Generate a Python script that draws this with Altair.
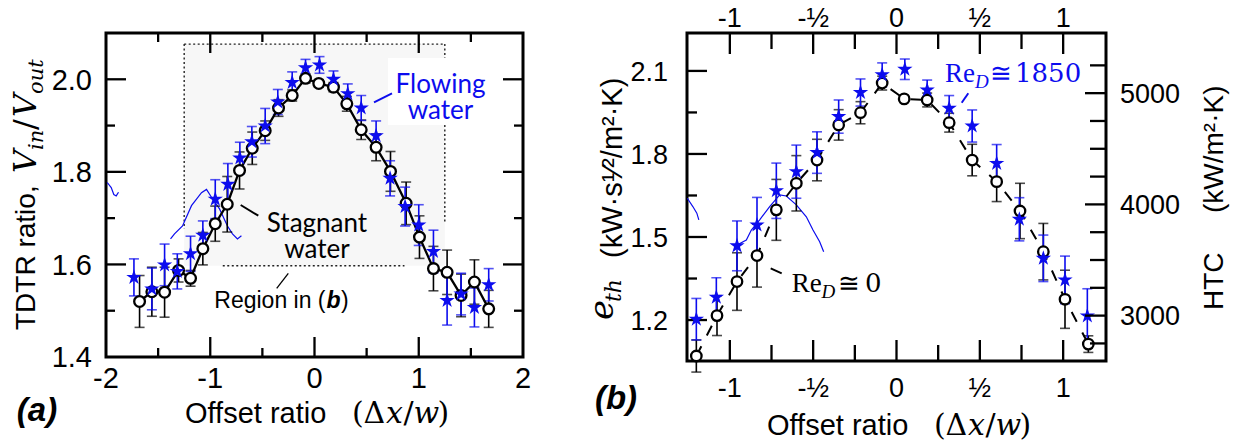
import altair as alt
import pandas as pd

# ---------------- panel (a): TDTR ratio vs offset ratio ----------------
a_x_stagnant = [-1.678, -1.56, -1.438, -1.304, -1.189, -1.071, -0.952, -0.837, -0.719, -0.597,
                -0.473, -0.345, -0.214, -0.086, 0.041, 0.182, 0.31, 0.448, 0.591, 0.729,
                0.879, 1.007, 1.141, 1.272, 1.406, 1.534, 1.671]
a_y_stagnant = [1.520, 1.541, 1.540, 1.587, 1.570, 1.634, 1.688, 1.730, 1.803, 1.851,
                1.889, 1.938, 1.965, 2.002, 1.991, 1.983, 1.947, 1.891, 1.853, 1.801,
                1.732, 1.659, 1.591, 1.583, 1.533, 1.562, 1.504]
a_e_stagnant = [0.056, 0.053, 0.054, 0.025, 0.017, 0.035, 0.038, 0.06, 0.04, 0.035,
                0.021, 0.018, 0.012, 0.01, 0.008, 0.01, 0.016, 0.021, 0.029, 0.043,
                0.046, 0.046, 0.048, 0.048, 0.046, 0.048, 0.04]

a_x_flowing = [-1.732, -1.56, -1.438, -1.316, -1.189, -1.071, -0.952, -0.831, -0.716, -0.601,
               -0.473, -0.352, -0.214, -0.086, 0.048, 0.182, 0.319, 0.448, 0.591, 0.725,
               0.869, 1.0, 1.141, 1.272, 1.406, 1.534, 1.671]
a_y_flowing = [1.572, 1.547, 1.599, 1.585, 1.623, 1.663, 1.741, 1.773, 1.830, 1.865,
               1.899, 1.951, 1.993, 2.025, 2.031, 2.000, 1.969, 1.938, 1.878, 1.786,
               1.725, 1.685, 1.628, 1.522, 1.536, 1.507, 1.556]
a_e_flowing = [0.04, 0.045, 0.045, 0.038, 0.038, 0.031, 0.042, 0.045, 0.034, 0.033,
               0.038, 0.027, 0.023, 0.018, 0.018, 0.018, 0.021, 0.027, 0.032, 0.038,
               0.042, 0.044, 0.046, 0.053, 0.045, 0.042, 0.035]

# stray thin blue traces
a_trace_x = [-1.988, -1.950, -1.925, -1.902, -1.880,
             -1.381, -1.343, -1.266, -1.180, -1.084, -1.036, -0.979, -0.911, -0.835, -0.787, -0.739, -0.701]
a_trace_y = [1.777, 1.766, 1.751, 1.748, 1.756,
             1.655, 1.666, 1.683, 1.727, 1.755, 1.762, 1.742, 1.720, 1.683, 1.666, 1.655, 1.662]
a_trace_id = [0] * 5 + [1] * 12

# ---------------- panel (b): effusivity / HTC vs offset ratio ----------------
b_x_stagnant = [-1.201, -1.077, -0.957, -0.837, -0.721, -0.601, -0.477, -0.347, -0.216, -0.086,
                0.046, 0.184, 0.316, 0.454, 0.601, 0.741, 0.881, 1.011, 1.151]
b_y_stagnant = [1.070, 1.216, 1.339, 1.433, 1.598, 1.694, 1.778, 1.905, 1.949, 2.056,
                1.999, 1.995, 1.913, 1.778, 1.700, 1.594, 1.447, 1.275, 1.113]
b_e_stagnant = [0.058, 0.072, 0.104, 0.114, 0.11, 0.1, 0.075, 0.055, 0.04, 0.025,
                0.008, 0.025, 0.034, 0.057, 0.072, 0.1, 0.102, 0.105, 0.03]

b_x_flowing = [-1.201, -1.081, -0.957, -0.837, -0.721, -0.601, -0.477, -0.347, -0.216, -0.086,
               0.05, 0.184, 0.316, 0.454, 0.601, 0.737, 0.881, 1.011, 1.145]
b_y_flowing = [1.203, 1.282, 1.468, 1.543, 1.667, 1.736, 1.805, 1.935, 2.022, 2.086,
               2.106, 2.031, 1.965, 1.901, 1.766, 1.564, 1.423, 1.345, 1.215]
b_e_flowing = [0.075, 0.071, 0.09, 0.1, 0.1, 0.096, 0.075, 0.06, 0.049, 0.043,
               0.037, 0.036, 0.046, 0.058, 0.068, 0.078, 0.084, 0.086, 0.098]

b_trace_x = [-1.255, -1.222, -1.198, -1.186,
             -0.957, -0.901, -0.871, -0.821, -0.761, -0.701, -0.661, -0.601, -0.541, -0.501, -0.461, -0.437]
b_trace_y = [1.640, 1.610, 1.586, 1.562,
             1.471, 1.489, 1.525, 1.562, 1.610, 1.652, 1.648, 1.616, 1.573, 1.525, 1.483, 1.447]
b_trace_id = [0] * 4 + [1] * 12

# ---------------- tick values and labels ----------------
a_x_labels = [-2, -1, 0, 1, 2]
a_x_text = ["-2", "-1", "0", "1", "2"]
a_x_major = [-1, 0, 1]
a_x_minor = [-1.5, -0.5, 0.5, 1.5]
a_y_labels = [1.4, 1.6, 1.8, 2.0]
a_y_text = ["1.4", "1.6", "1.8", "2.0"]
a_y_major = [1.6, 1.8, 2.0]
a_y_minor = [1.5, 1.7, 1.9]

b_x_major = [-1, -0.5, 0, 0.5, 1]
b_x_text = ["-1", "-½", "0", "½", "1"]
b_x_minor = [-0.75, -0.25, 0.25, 0.75]
b_y_major = [1.2, 1.5, 1.8, 2.1]
b_y_text = ["1.2", "1.5", "1.8", "2.1"]
b_y_minor = [1.35, 1.65, 1.95]
htc_major = [3000, 4000, 5000]
htc_text = ["3000", "4000", "5000"]
htc_minor = [2750, 3250, 3500, 3750, 4250, 4500, 4750, 5250]

# ---------------- layout / style ----------------
BLUE = "#0c0cee"
SANS = "Liberation Sans"
SERIF = "Liberation Serif"
MATH = "DejaVu Serif"
LABEL = "Lato"
# five-pointed star in the [-1, 1] symbol box
STAR = ("M0,-1L0.2245,-0.309L0.951,-0.309L0.363,0.118L0.5878,0.809L0,0.382"
        "L-0.5878,0.809L-0.363,0.118L-0.951,-0.309L-0.2245,-0.309Z")

PAGE_W, PAGE_H = 1237, 444
A_W, A_H = 417, 324
B_W, B_H = 419, 328
A_ORIGIN = (106, 33)
B_ORIGIN = (687, 33)
SPACING = B_ORIGIN[0] - A_ORIGIN[0] - A_W

ax_scale = alt.Scale(domain=[-2, 2], nice=False, zero=False)
ay_scale = alt.Scale(domain=[1.4, 2.1], nice=False, zero=False)
bx_scale = alt.Scale(domain=[-1.257, 1.257], nice=False, zero=False)
by_scale = alt.Scale(domain=[1.052, 2.237], nice=False, zero=False)
htc_scale = alt.Scale(domain=[2592, 5541], nice=False, zero=False)

ONE = pd.DataFrame({"k": [0]})


def text_at(origin, x, y, text, size, font=SANS, color="black", style="normal",
            weight="normal", angle=0, align="left", baseline="alphabetic", line_height=None):
    kw = dict(text=text, font=font, fontSize=size, fontStyle=style, fontWeight=weight,
              color=color, align=align, baseline=baseline)
    if angle:
        kw["angle"] = angle
    if line_height:
        kw["lineHeight"] = line_height
    return alt.Chart(ONE).mark_text(**kw).encode(
        x=alt.value(x - origin[0]), y=alt.value(y - origin[1]))


def leader(origin, x1, y1, x2, y2, color="black", width=2.0):
    return alt.Chart(ONE).mark_rule(color=color, strokeWidth=width).encode(
        x=alt.value(x1 - origin[0]), y=alt.value(y1 - origin[1]),
        x2=alt.value(x2 - origin[0]), y2=alt.value(y2 - origin[1]))


def x_labels(vals, texts, scale, origin, baseline_y, size):
    df = pd.DataFrame({"v": vals, "t": texts})
    return alt.Chart(df).mark_text(font=SANS, fontSize=size, color="black",
                                   align="center", baseline="alphabetic").encode(
        x=alt.X("v:Q", scale=scale, axis=None), y=alt.value(baseline_y - origin[1]),
        text="t:N")


def y_labels(vals, texts, scale, origin, x_page, size, align):
    df = pd.DataFrame({"v": vals, "t": texts})
    return alt.Chart(df).mark_text(font=SANS, fontSize=size, color="black", align=align,
                                   baseline="alphabetic", dy=round(0.36 * size, 1)).encode(
        y=alt.Y("v:Q", scale=scale, axis=None), x=alt.value(x_page - origin[0]),
        text="t:N")


def x_ticks(vals, scale, length, H, width=2.3):
    df = pd.DataFrame({"v": vals})
    enc_x = alt.X("v:Q", scale=scale, axis=None)
    top = alt.Chart(df).mark_rule(color="black", strokeWidth=width).encode(
        x=enc_x, y=alt.value(0), y2=alt.value(length))
    bot = alt.Chart(df).mark_rule(color="black", strokeWidth=width).encode(
        x=enc_x, y=alt.value(H - length), y2=alt.value(H))
    return [top, bot]


def y_ticks(vals, scale, length, W, sides=("left", "right"), width=2.3):
    df = pd.DataFrame({"v": vals})
    out = []
    for side in sides:
        x0, x1 = (0, length) if side == "left" else (W - length, W)
        out.append(alt.Chart(df).mark_rule(color="black", strokeWidth=width).encode(
            y=alt.Y("v:Q", scale=scale, axis=None), x=alt.value(x0), x2=alt.value(x1)))
    return out


def error_bars(xs, ys, es, color, xscale, yscale, cap=10, width=1.6):
    df = pd.DataFrame({"x": xs, "y": ys, "e": es})
    base = alt.Chart(df).transform_calculate(lo="datum.y - datum.e", hi="datum.y + datum.e")
    ex = alt.X("x:Q", scale=xscale, axis=None)
    stem = base.mark_rule(color=color, strokeWidth=width).encode(
        x=ex, y=alt.Y("lo:Q", scale=yscale, axis=None), y2="hi:Q")
    caps = [base.mark_tick(orient="horizontal", color=color, size=cap, thickness=width).encode(
        x=ex, y=alt.Y(f"{c}:Q", scale=yscale, axis=None)) for c in ("lo", "hi")]
    return [stem] + caps


def offset_title(origin, x0, base):
    # "Offset ratio  (Δx/w)"
    return [
        text_at(origin, x0, base, "Offset ratio", 29),
        text_at(origin, x0 + 167, base, "(", 30, font=MATH),
        text_at(origin, x0 + 178.5, base, "Δ", 30, font=MATH),
        text_at(origin, x0 + 201, base, "x", 30, font=MATH, style="italic"),
        text_at(origin, x0 + 218.5, base, "/", 30, font=MATH),
        text_at(origin, x0 + 228.5, base, "w", 30, font=MATH, style="italic"),
        text_at(origin, x0 + 252.5, base, ")", 30, font=MATH),
    ]


# ================= panel (a) =================
o = A_ORIGIN
region = pd.DataFrame({"x0": [-1.25], "x1": [1.25], "y0": [1.597], "y1": [2.076]})
region_edges = pd.DataFrame({
    "x0": [-1.25, -1.25, 1.25, 1.25, -0.880],
    "x1": [1.25, -1.25, 1.25, 1.25, 0.863],
    "y0": [2.076, 2.076, 2.076, 1.901, 1.597],
    "y1": [2.076, 1.677, 2.046, 1.690, 1.597],
})

a_layers = []
a_layers.append(alt.Chart(region).mark_rect(fill="#f7f7f7").encode(
    x=alt.X("x0:Q", scale=ax_scale, axis=None), x2="x1:Q",
    y=alt.Y("y0:Q", scale=ay_scale, axis=None), y2="y1:Q"))
a_layers.append(alt.Chart(ONE).mark_rect(fill="white").encode(
    x=alt.value(388 - o[0]), x2=alt.value(492 - o[0]),
    y=alt.value(58 - o[1]), y2=alt.value(125 - o[1])))
a_layers.append(alt.Chart(region_edges).mark_rule(
    color="#222222", strokeWidth=1.4, strokeDash=[2, 2.5]).encode(
    x=alt.X("x0:Q", scale=ax_scale, axis=None), x2="x1:Q",
    y=alt.Y("y0:Q", scale=ay_scale, axis=None), y2="y1:Q"))

a_trace = pd.DataFrame({"x": a_trace_x, "y": a_trace_y, "seg": a_trace_id,
                        "i": range(len(a_trace_x))})
a_layers.append(alt.Chart(a_trace).mark_line(color=BLUE, strokeWidth=1.2).encode(
    x=alt.X("x:Q", scale=ax_scale, axis=None), y=alt.Y("y:Q", scale=ay_scale, axis=None),
    detail="seg:N", order="i:Q"))

a_layers += x_ticks(a_x_major, ax_scale, 20, A_H)
a_layers += x_ticks(a_x_minor, ax_scale, 9, A_H)
a_layers += y_ticks(a_y_major, ay_scale, 20, A_W)
a_layers += y_ticks(a_y_minor, ay_scale, 9, A_W)
a_layers.append(x_labels(a_x_labels, a_x_text, ax_scale, o, 388, 29))
a_layers.append(y_labels(a_y_labels, a_y_text, ay_scale, o, 92, 29, "right"))

a_layers += error_bars(a_x_stagnant, a_y_stagnant, a_e_stagnant, "black", ax_scale, ay_scale)
a_layers += error_bars(a_x_flowing, a_y_flowing, a_e_flowing, BLUE, ax_scale, ay_scale)

a_stag = pd.DataFrame({"x": a_x_stagnant, "y": a_y_stagnant})
a_flow = pd.DataFrame({"x": a_x_flowing, "y": a_y_flowing})
a_layers.append(alt.Chart(a_stag).mark_line(color="black", strokeWidth=2.3).encode(
    x=alt.X("x:Q", scale=ax_scale, axis=None), y=alt.Y("y:Q", scale=ay_scale, axis=None)))
a_layers.append(alt.Chart(a_stag).mark_point(
    shape="circle", filled=True, fill="white", stroke="black", strokeWidth=2.3,
    size=115, opacity=1).encode(
    x=alt.X("x:Q", scale=ax_scale, axis=None), y=alt.Y("y:Q", scale=ay_scale, axis=None)))
a_layers.append(alt.Chart(a_flow).mark_point(
    shape=STAR, filled=True, color=BLUE, size=260, opacity=1).encode(
    x=alt.X("x:Q", scale=ax_scale, axis=None), y=alt.Y("y:Q", scale=ay_scale, axis=None)))

# annotations in (a)
a_layers += [
    text_at(o, 440.5, 84.5, ["Flowing", "water"], 26, font=LABEL, color=BLUE,
            align="center", baseline="middle", line_height=26),
    leader(o, 374, 102.3, 392, 93.3, color=BLUE),
    text_at(o, 317, 223.5, ["Stagnant", "water"], 26, font=LABEL,
            align="center", baseline="middle", line_height=26),
    leader(o, 240.7, 205, 258.3, 215.7),
    text_at(o, 214.3, 308.3, "Region in (", 23),
    text_at(o, 326.5, 308.3, "b", 23, style="italic", weight="bold"),
    text_at(o, 341, 308.3, ")", 23),
    leader(o, 276.7, 288.3, 288.3, 273.3, width=1.3),
    text_at(o, 37, 411, "(a)", 33, style="italic", weight="bold", align="center",
            baseline="middle"),
]
a_layers += offset_title(o, 185, 423)
# y title: "TDTR ratio,  V_in / V_out"
a_layers += [
    text_at(o, 34.5, 330, "TDTR ratio,", 28, angle=270),
    text_at(o, 36, 173, "V", 32, font=MATH, style="italic", angle=270),
    text_at(o, 43, 150, "in", 21, font=MATH, style="italic", angle=270),
    text_at(o, 36, 130, "/", 32, font=MATH, angle=270),
    text_at(o, 36, 117, "V", 32, font=MATH, style="italic", angle=270),
    text_at(o, 43, 94, "out", 21, font=MATH, style="italic", angle=270),
]

panel_a = alt.layer(*a_layers).properties(width=A_W, height=A_H)

# ================= panel (b) =================
o = B_ORIGIN
b_layers = []
b_trace = pd.DataFrame({"x": b_trace_x, "y": b_trace_y, "seg": b_trace_id,
                        "i": range(len(b_trace_x))})
b_layers.append(alt.Chart(b_trace).mark_line(color=BLUE, strokeWidth=1.2).encode(
    x=alt.X("x:Q", scale=bx_scale, axis=None), y=alt.Y("y:Q", scale=by_scale, axis=None),
    detail="seg:N", order="i:Q"))

b_layers += x_ticks(b_x_major, bx_scale, 21, B_H)
b_layers += x_ticks(b_x_minor, bx_scale, 16, B_H)
b_layers += y_ticks(b_y_major, by_scale, 20, B_W, sides=("left",))
b_layers += y_ticks(b_y_minor, by_scale, 10, B_W, sides=("left",))
b_layers.append(x_labels(b_x_major, b_x_text, bx_scale, o, 27, 27))
b_layers.append(x_labels(b_x_major, b_x_text, bx_scale, o, 397, 27))
b_layers.append(y_labels(b_y_major, b_y_text, by_scale, o, 668, 27, "right"))

b_layers += error_bars(b_x_stagnant, b_y_stagnant, b_e_stagnant, "black", bx_scale, by_scale)
b_layers += error_bars(b_x_flowing, b_y_flowing, b_e_flowing, BLUE, bx_scale, by_scale)

b_stag = pd.DataFrame({"x": b_x_stagnant, "y": b_y_stagnant})
b_flow = pd.DataFrame({"x": b_x_flowing, "y": b_y_flowing})
b_layers.append(alt.Chart(b_stag).mark_line(color="black", strokeWidth=2.0,
                                            strokeDash=[11, 12]).encode(
    x=alt.X("x:Q", scale=bx_scale, axis=None), y=alt.Y("y:Q", scale=by_scale, axis=None)))
b_layers.append(alt.Chart(b_stag).mark_point(
    shape="circle", filled=True, fill="white", stroke="black", strokeWidth=2.3,
    size=110, opacity=1).encode(
    x=alt.X("x:Q", scale=bx_scale, axis=None), y=alt.Y("y:Q", scale=by_scale, axis=None)))
b_layers.append(alt.Chart(b_flow).mark_point(
    shape=STAR, filled=True, color=BLUE, size=260, opacity=1).encode(
    x=alt.X("x:Q", scale=bx_scale, axis=None), y=alt.Y("y:Q", scale=by_scale, axis=None)))

# annotations in (b)
b_layers += [
    text_at(o, 945, 81.7, "Re", 27, font=SERIF, color=BLUE),
    text_at(o, 975, 87.5, "D", 19, font=SERIF, style="italic", color=BLUE),
    text_at(o, 990, 81.7, "≅", 26, font=MATH, color=BLUE),
    text_at(o, 1015, 81.7, "1850", 26, font=MATH, color=BLUE),
    leader(o, 961.7, 102.7, 968.3, 93.3, color=BLUE),
    text_at(o, 791.7, 291.7, "Re", 27, font=SERIF),
    text_at(o, 821.5, 297.5, "D", 19, font=SERIF, style="italic"),
    text_at(o, 838, 291.7, "≅", 26, font=MATH),
    text_at(o, 865, 291.7, "0", 26, font=MATH),
    leader(o, 770.7, 268.3, 781.7, 273.3),
    text_at(o, 616, 399, "(b)", 33, style="italic", weight="bold", align="center",
            baseline="middle"),
    text_at(o, 622, 258, "(kW·s¹⁄²/m²·K)", 29, angle=270),
    text_at(o, 613, 320, "e", 34, font=MATH, style="italic", angle=270),
    text_at(o, 621, 302, "th", 22, font=MATH, style="italic", angle=270),
    text_at(o, 1223, 310, "HTC", 28, angle=270),
    text_at(o, 1223, 213, "(kW/m²·K)", 28, angle=270),
]
b_layers += offset_title(o, 767, 435)

eth = alt.layer(*b_layers)
htc = alt.layer(
    *y_ticks(htc_major, htc_scale, 21, B_W, sides=("right",)),
    *y_ticks(htc_minor, htc_scale, 16, B_W, sides=("right",)),
    y_labels(htc_major, htc_text, htc_scale, o, 1120, 27, "left"),
)
panel_b = alt.layer(eth, htc).resolve_scale(y="independent").properties(width=B_W, height=B_H)

# fixed page: the concat content starts at panel (a)'s origin and the padding
# spans the rest of the page
chart = alt.hconcat(panel_a, panel_b, spacing=SPACING, bounds="flush").properties(
    padding={"left": A_ORIGIN[0], "top": A_ORIGIN[1],
             "right": PAGE_W - A_ORIGIN[0], "bottom": PAGE_H - A_ORIGIN[1]},
    autosize=alt.AutoSizeParams(type="none"),
    background="white",
).configure_view(stroke="black", strokeWidth=3)

chart.save("out.html", embed_options={"renderer": "svg", "actions": False})
